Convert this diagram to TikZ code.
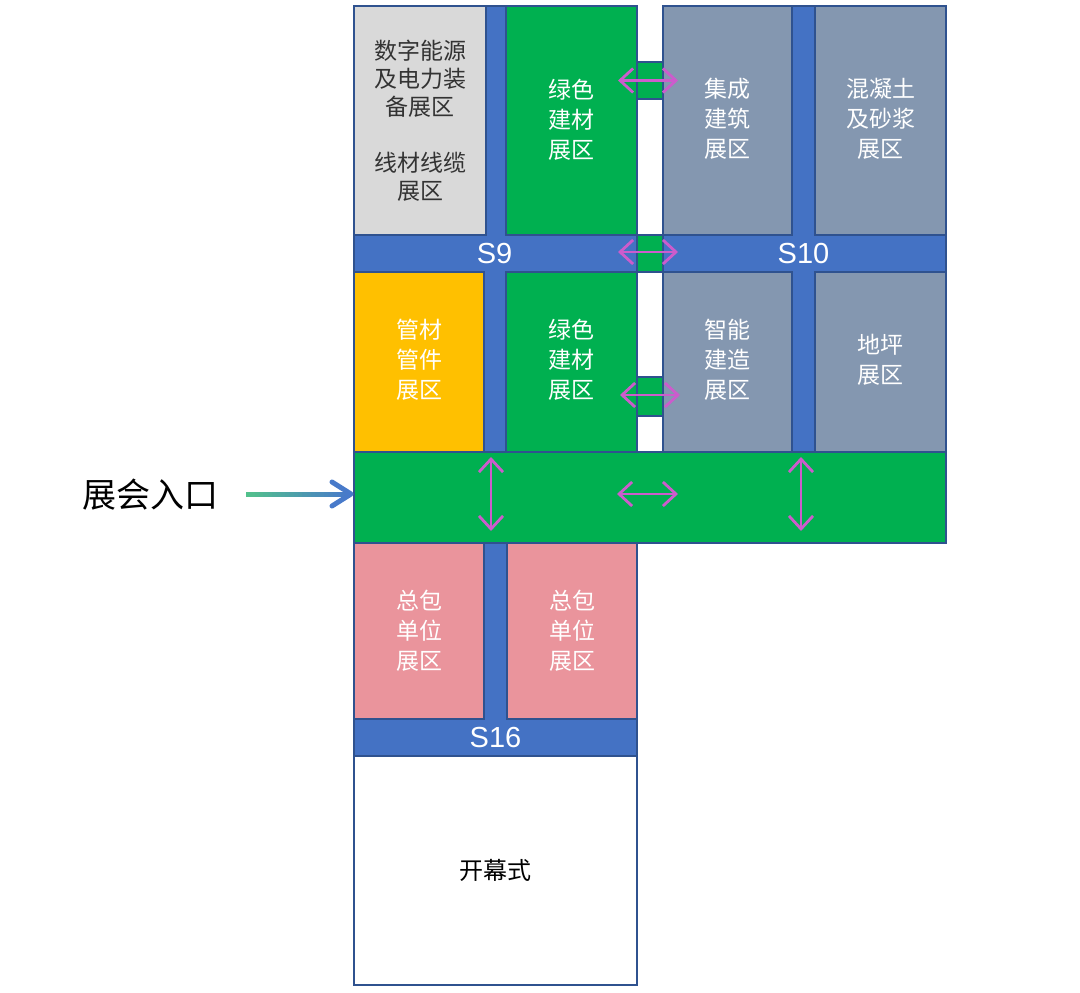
\documentclass[tikz,border=0pt]{standalone}
\usepackage{fontspec}
\setmainfont{Liberation Sans}
\newfontfamily\cjk{Noto Sans CJK SC}
\usetikzlibrary{fit,arrows.meta,calc}
\definecolor{road}{RGB}{68,114,196}
\definecolor{edge}{RGB}{47,82,143}
\definecolor{zgreen}{RGB}{0,176,80}
\definecolor{zslate}{RGB}{132,151,176}
\definecolor{zlight}{RGB}{217,217,217}
\definecolor{zyellow}{RGB}{255,192,0}
\definecolor{zpink}{RGB}{234,148,156}
\definecolor{arrowc}{RGB}{204,92,204}
\definecolor{entryA}{RGB}{82,192,140}
\definecolor{entryB}{RGB}{72,122,202}
\definecolor{darktext}{RGB}{51,51,51}
\tikzset{
  zone/.style={draw=edge, line width=2pt, inner sep=0pt},
  ztext/.style={inner sep=0pt, align=center, text=white,
    font=\cjk\fontsize{23}{30}\selectfont},
  roadbg/.style={fill=road, draw=edge, line width=2pt, inner sep=0pt},
  sroad/.style={inner sep=0pt, text=white, font=\fontsize{29}{32}\selectfont},
  link/.style={arrowc, line width=2.8pt,
    {Straight Barb[length=13pt,width=24pt]}-{Straight Barb[length=13pt,width=24pt]}},
}
\begin{document}
\begin{tikzpicture}[x=1pt,y=-1pt]
\useasboundingbox (0,0) rectangle (1080,993);
% road backgrounds
\node[roadbg, fit={(354,6)(637,452)}] (rl) {};
\node[roadbg, fit={(663,6)(946,452)}] (rr) {};
\node[roadbg, fit={(354,543)(637,756)}] (rb) {};
% top row
\node[zone, fill=zlight, fit={(354,6)(486,235)}] (n1) {};
\node[zone, fill=zgreen, fit={(506,6)(637,235)}] (n2) {};
\node[zone, fill=zgreen, fit={(637,62)(663,99)}] (c1) {};
\node[zone, fill=zslate, fit={(663,6)(792,235)}] (n3) {};
\node[zone, fill=zslate, fit={(815,6)(946,235)}] (n4) {};
\node[inner sep=0pt, fit={(354,235)(637,272)}] (s9) {};
\node[zone, fill=zgreen, fit={(637,235)(663,272)}] (c2) {};
\node[inner sep=0pt, fit={(663,235)(946,272)}] (s10) {};
% second row
\node[zone, fill=zyellow, fit={(354,272)(484,452)}] (n5) {};
\node[zone, fill=zgreen, fit={(506,272)(637,452)}] (n6) {};
\node[zone, fill=zgreen, fit={(637,377)(663,416)}] (c3) {};
\node[zone, fill=zslate, fit={(663,272)(792,452)}] (n7) {};
\node[zone, fill=zslate, fit={(815,272)(946,452)}] (n8) {};
% main hall band
\node[zone, fill=zgreen, fit={(354,452)(946,543)}] (hall) {};
% lower rows
\node[zone, fill=zpink, fit={(354,543)(484,719)}] (n9) {};
\node[zone, fill=zpink, fit={(507,543)(637,719)}] (n10) {};
\node[inner sep=0pt, fit={(354,719)(637,756)}] (s16) {};
\node[zone, fill=white, fit={(354,756)(637,985)}] (n11) {};
% texts
\node[ztext, text=darktext, font=\cjk\fontsize{23}{28}\selectfont] (t1) at (n1.center)
  {数字能源\\及电力装\\备展区\\[28pt]线材线缆\\展区};
\node[ztext] (t2) at ([yshift=1pt]n2.center) {绿色\\建材\\展区};
\node[ztext] (t3) at ([yshift=2pt]n3.center) {集成\\建筑\\展区};
\node[ztext] (t4) at ([yshift=2pt]n4.center) {混凝土\\及砂浆\\展区};
\node[sroad] (l9) at ([xshift=-1pt]s9.center) {S9};
\node[sroad] (l10) at ([xshift=-1pt]s10.center) {S10};
\node[ztext] (t5) at ([yshift=2pt]n5.center) {管材\\管件\\展区};
\node[ztext] (t6) at ([yshift=2pt]n6.center) {绿色\\建材\\展区};
\node[ztext] (t7) at ([yshift=2pt]n7.center) {智能\\建造\\展区};
\node[ztext] (t8) at ([yshift=2pt]n8.center) {地坪\\展区};
\node[ztext] (t9) at (n9.center) {总包\\单位\\展区};
\node[ztext] (t10) at (n10.center) {总包\\单位\\展区};
\node[sroad] (l16) at (s16.center) {S16};
\node[ztext, text=black, font=\cjk\fontsize{24}{30}\selectfont] (t11) at (n11.center) {开幕式};
% entrance
\node[inner sep=0pt, font=\cjk\fontsize{34}{38}\selectfont] (entry) at (150,495) {展会入口};
\coordinate (ein) at (246,494);
\coordinate (eend) at (hall.west |- ein);
\foreach \i in {0,...,23}{
  \pgfmathsetmacro\p{100-\i*100/23}
  \draw[line width=5pt, entryA!\p!entryB]
    ($(ein)!{\i/24}!([xshift=-3pt]eend)$) -- ($(ein)!{(\i+1.15)/24}!([xshift=-3pt]eend)$);
}
\draw[entryB, line width=5pt, line cap=round, line join=round]
  ([shift={(-21,-12)}]eend) -- ([xshift=-2pt]eend) -- ([shift={(-21,12)}]eend);
% passage arrows
\draw[link] ([xshift=-32pt]c1.center) -- ([xshift=28pt]c1.center);
\draw[link] ([shift={(-32,-1.5)}]c2.center) -- ([shift={(28,-1.5)}]c2.center);
\draw[link] ([shift={(-30,-1.5)}]c3.center) -- ([shift={(30,-1.5)}]c3.center);
\coordinate (v1a) at (491,457);
\coordinate (v1b) at (491,531);
\coordinate (v2a) at (801,457);
\coordinate (v2b) at (801,531);
\coordinate (h1a) at (617,494);
\coordinate (h1b) at (678,494);
\draw[link] (v1a) -- (v1b);
\draw[link] (v2a) -- (v2b);
\draw[link] (h1a) -- (h1b);
\end{tikzpicture}
\end{document}
